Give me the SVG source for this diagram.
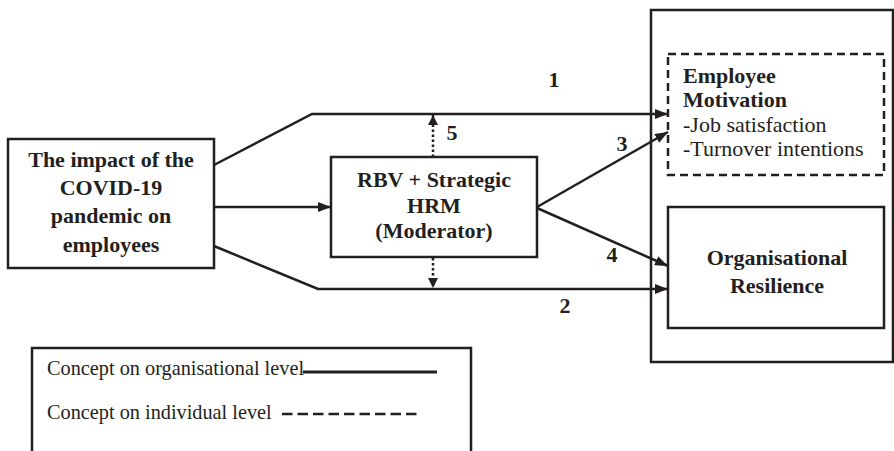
<svg xmlns="http://www.w3.org/2000/svg" width="894" height="451" viewBox="0 0 894 451">
<style>
.box{fill:none;stroke:#231f20;stroke-width:2.5}
.ln{fill:none;stroke:#231f20;stroke-width:2.5}
.dot{fill:none;stroke:#231f20;stroke-width:2.5;stroke-dasharray:2.5 2.5}
.b{font-family:"Liberation Serif","Times New Roman",serif;font-weight:bold;font-size:22px;fill:#231f20}
.r{font-family:"Liberation Serif","Times New Roman",serif;font-size:22px;fill:#231f20}
.lg{font-family:"Liberation Serif","Times New Roman",serif;font-size:20.3px;fill:#231f20}
.c{text-anchor:middle}
</style>
<defs>
<marker id="ah" markerUnits="userSpaceOnUse" markerWidth="13" markerHeight="10" refX="13" refY="5" orient="auto">
<path d="M0,0 L13,5 L0,10 z" fill="#231f20"/>
</marker>
<marker id="ahs" markerUnits="userSpaceOnUse" markerWidth="10" markerHeight="10" refX="10" refY="5" orient="auto">
<path d="M0,0 L10,5 L0,10 z" fill="#231f20"/>
</marker>
</defs>
<g id="outer">
<rect class="box" x="651" y="10" width="242" height="352"/>
</g>
<g id="impact">
<rect class="box" x="8" y="139" width="206" height="129"/>
<text class="b c" x="111" y="167">The impact of the</text>
<text class="b c" x="111" y="195">COVID-19</text>
<text class="b c" x="111" y="223">pandemic on</text>
<text class="b c" x="111" y="252">employees</text>
</g>
<g id="moderator">
<rect class="box" x="331" y="157" width="206" height="100"/>
<text class="b c" x="434" y="187">RBV + Strategic</text>
<text class="b c" x="434" y="213">HRM</text>
<text class="b c" x="434" y="238">(Moderator)</text>
</g>
<g id="motivation">
<rect class="box" x="668" y="54" width="216" height="121" stroke-dasharray="8 5"/>
<text class="b" x="683" y="83">Employee</text>
<text class="b" x="683" y="107">Motivation</text>
<text class="r" x="683" y="132">-Job satisfaction</text>
<text class="r" x="683" y="156">-Turnover intentions</text>
</g>
<g id="resilience">
<rect class="box" x="668" y="207" width="216" height="121"/>
<text class="b c" x="777" y="265">Organisational</text>
<text class="b c" x="777" y="293">Resilience</text>
</g>
<g id="connectors">
<polyline class="ln" points="214,165 312,114 668,114" marker-end="url(#ah)"/>
<line class="ln" x1="214" y1="207" x2="331" y2="207" marker-end="url(#ah)"/>
<polyline class="ln" points="214,246 318,289 668,289" marker-end="url(#ah)"/>
<line class="ln" x1="537" y1="207" x2="668" y2="132" marker-end="url(#ah)"/>
<line class="ln" x1="537" y1="208" x2="668" y2="266" marker-end="url(#ah)"/>
<line class="dot" x1="433" y1="157" x2="433" y2="115" marker-end="url(#ahs)"/>
<line class="dot" x1="433" y1="258" x2="433" y2="288" marker-end="url(#ahs)"/>
<text class="b c" x="554" y="87">1</text>
<text class="b c" x="565" y="313">2</text>
<text class="b c" x="622" y="151">3</text>
<text class="b c" x="612" y="262">4</text>
<text class="b c" x="452" y="140">5</text>
</g>
<g id="legend">
<path class="box" d="M32,452 L32,348 L471,348 L471,452"/>
<text class="lg" x="47" y="375">Concept on organisational level</text>
<line x1="303" y1="372" x2="437" y2="372" stroke="#231f20" stroke-width="3"/>
<text class="lg" x="47" y="419">Concept on individual level</text>
<line x1="282" y1="414" x2="417" y2="414" stroke="#231f20" stroke-width="2.5" stroke-dasharray="10.5 5"/>
</g>
</svg>
